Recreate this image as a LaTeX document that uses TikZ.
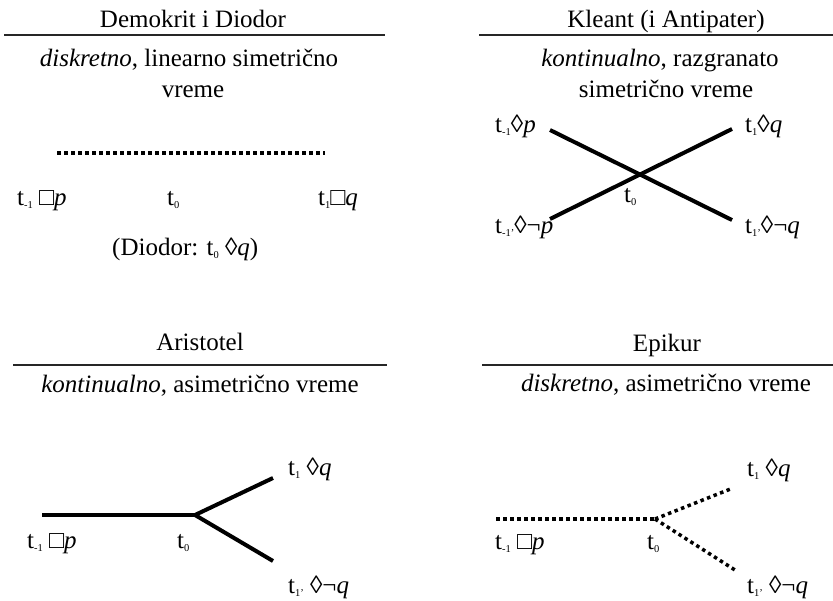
\documentclass[tikz,border=0pt]{standalone}
\usepackage{fontspec}
\setmainfont{Liberation Serif}
\newcommand{\tsub}[1]{\raisebox{-0.12em}{\fontsize{10.5}{10.5}\selectfont #1}}
\newcommand{\bxs}{□}
\newcommand{\dms}{◊}
\begin{document}
\begin{tikzpicture}[x=1pt,y=-1pt,
  txt/.style={font=\fontsize{25}{29}\selectfont, inner sep=0pt, anchor=base},
  lbl/.style={font=\fontsize{25}{29}\selectfont, inner sep=0pt, anchor=base west},
  rulel/.style={line width=1.4pt, draw=black!85},
  solidl/.style={line width=4pt},
  dotl/.style={line width=3.5pt, dash pattern=on 3.5pt off 3.5pt}]
\useasboundingbox (0,0) rectangle (833,600);

% ---------- top left: Demokrit i Diodor
\node[txt] (tlTitle) at (193,27) {Demokrit i Diodor};
\draw[rulel] (4,35) -- (385,35);
\node[txt] (tlSub1) at (189,66) {\textit{diskretno}, linearno simetrično};
\node[txt] (tlSub2) at (193,97) {vreme};
\coordinate (tlA) at (57,153);
\coordinate (tlB) at (325,153);
\draw[dotl] (tlA) -- (tlB);
\node[lbl] (tlL1) at (17,205) {t\tsub{-1} \bxs\textit{p}};
\node[lbl] (tlL2) at (167,205) {t\tsub{0}};
\node[lbl] (tlL3) at (318,205) {t\tsub{1}\bxs\textit{q}};
\node[lbl] (tlL4) at (112,255) {(Diodor: t\tsub{0} \dms\textit{q})};

% ---------- top right: Kleant
\node[txt] (trTitle) at (666,27) {Kleant (i Antipater)};
\draw[rulel] (479,35) -- (833,35);
\node[txt] (trSub1) at (660,66) {\textit{kontinualno}, razgranato};
\node[txt] (trSub2) at (666,97) {simetrično vreme};
\coordinate (trA) at (550,130);
\coordinate (trB) at (732,220);
\coordinate (trC) at (550,219);
\coordinate (trD) at (732,129);
\draw[solidl] (trA) -- (trB);
\draw[solidl] (trC) -- (trD);
\node[lbl] (trL1) at (495,132) {t\tsub{-1}\dms\textit{p}};
\node[lbl] (trL2) at (745,132) {t\tsub{1}\dms\textit{q}};
\node[lbl] (trL3) at (624,202) {t\tsub{0}};
\node[lbl] (trL4) at (495,233) {t\tsub{-1'}\dms¬\textit{p}};
\node[lbl] (trL5) at (745,233) {t\tsub{1'}\dms¬\textit{q}};

% ---------- bottom left: Aristotel
\node[txt] (blTitle) at (200,350) {Aristotel};
\draw[rulel] (13,365) -- (387,365);
\node[txt] (blSub) at (200,392) {\textit{kontinualno}, asimetrično vreme};
\coordinate (blA) at (42,515);
\coordinate (blO) at (195,515);
\coordinate (blU) at (273,478);
\coordinate (blD) at (273,561);
\draw[solidl] (blA) -- (blO);
\draw[solidl] (blO) -- (blU);
\draw[solidl] (blO) -- (blD);
\node[lbl] (blL1) at (27,548) {t\tsub{-1} \bxs\textit{p}};
\node[lbl] (blL2) at (177,548) {t\tsub{0}};
\node[lbl] (blL3) at (288,475) {t\tsub{1} \dms\textit{q}};
\node[lbl] (blL4) at (288,593) {t\tsub{1'} \dms¬\textit{q}};

% ---------- bottom right: Epikur
\node[txt] (brTitle) at (667,351) {Epikur};
\draw[rulel] (482,365) -- (833,365);
\node[txt] (brSub) at (666,391) {\textit{diskretno}, asimetrično vreme};
\coordinate (brA) at (496,519);
\coordinate (brO) at (655,519);
\coordinate (brU) at (733,488);
\coordinate (brD) at (735,570);
\draw[dotl] (brA) -- (brO);
\draw[dotl] (brO) -- (brU);
\draw[dotl] (brO) -- (brD);
\node[lbl] (brL1) at (495,549) {t\tsub{-1} \bxs\textit{p}};
\node[lbl] (brL2) at (647,549) {t\tsub{0}};
\node[lbl] (brL3) at (747,476) {t\tsub{1} \dms\textit{q}};
\node[lbl] (brL4) at (747,593) {t\tsub{1'} \dms¬\textit{q}};
\end{tikzpicture}
\end{document}
